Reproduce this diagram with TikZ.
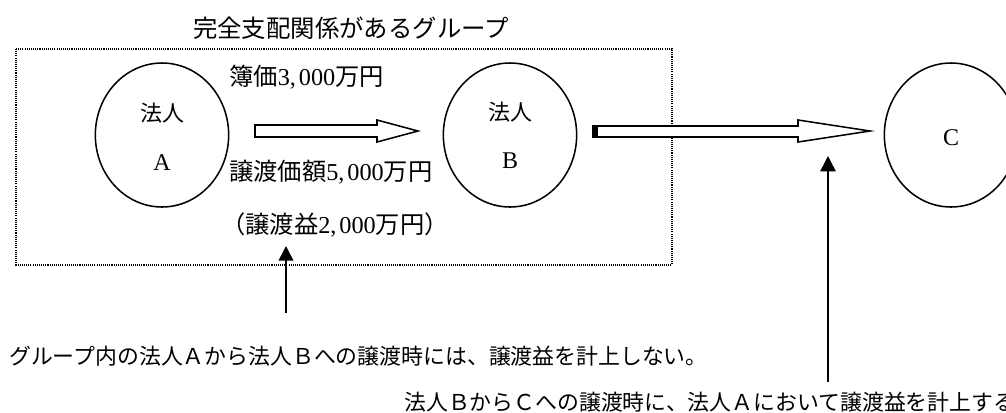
\documentclass[tikz,border=0pt]{standalone}
\usepackage{fontspec}
\setmainfont{Liberation Serif}
\newfontfamily\jp{Noto Sans CJK JP}
\usetikzlibrary{arrows.meta,shapes.geometric}
\begin{document}
\begin{tikzpicture}[x=0.75pt,y=-0.75pt,
  circ/.style={draw,ellipse,line width=1.15pt,minimum width=100pt,minimum height=108pt,inner sep=0pt},
  lbl/.style={inner sep=0pt,font=\fontsize{18.2pt}{20pt}\selectfont},
  inlbl/.style={inner sep=0pt,font=\fontsize{18pt}{20pt}\selectfont},
  injp/.style={inner sep=0pt,font=\fontsize{16.5pt}{18pt}\selectfont\jp},
  note/.style={inner sep=0pt,anchor=west,font=\fontsize{16.4pt}{18pt}\selectfont\jp},
  hollow/.style={draw,line width=1.15pt,fill=white,line join=miter},
  uparrow/.style={line width=1.15pt,-{Triangle[length=#1,width=#1]}}
]
\useasboundingbox (0,0) rectangle (1006,412);
\clip (0,0) rectangle (1006,412);
% group box
\node[inner sep=0pt,font=\fontsize{18.3pt}{20pt}\selectfont\jp] (title) at (351,28) {完全支配関係があるグループ};
\draw[dash pattern=on 0.8pt off 0.8pt,line width=0.9pt] (16,49) rectangle (672,265);
% entities
\node[circ] (A) at (162,135) {};
\node[circ] (B) at (510,135) {};
\node[circ] (C) at (951,135) {};
\node[injp] (Al) at (162,113) {法人};
\node[inlbl] (An) at (162,163) {A};
\node[injp] (Bl) at (510,112) {法人};
\node[inlbl] (Bn) at (510,161) {B};
\node[inlbl] (Cn) at (951,138) {C};
% hollow arrow A -> B
\coordinate (ab0) at (255,131);
\coordinate (ab1) at (418,131);
\draw[hollow] (255,125) -- (377,125) -- (377,120) -- (ab1) -- (377,142) -- (377,137) -- (255,137) -- cycle;
% hollow arrow B -> C
\coordinate (bc0) at (593,131);
\coordinate (bc1) at (870,131);
\draw[hollow] (593,126) -- (798,126) -- (798,120) -- (bc1) -- (798,142) -- (798,137) -- (593,137) -- cycle;
\fill (593,125.5) rectangle (598,137.5);
% labels
\node[lbl,anchor=west] (bv) at (229,77) {{\jp 簿価}3,\hspace{0.12em}000{\jp 万円}};
\node[lbl,anchor=west] (tp) at (229,172) {{\jp 譲渡価額}5,\hspace{0.12em}000{\jp 万円}};
\node[lbl,anchor=west] (gn) at (221,225) {{\jp （譲渡益}2,\hspace{0.12em}000{\jp 万円）}};
% notes
\node[note] (n1) at (9,356) {グループ内の法人Ａから法人Ｂへの譲渡時には、譲渡益を計上しない。};
\node[note] (n2) at (404,402) {法人ＢからＣへの譲渡時に、法人Ａにおいて譲渡益を計上する};
% pointer arrows
\coordinate (u1s) at (286,313);
\coordinate (u1t) at (286,246);
\draw[uparrow=11pt] (u1s) -- (u1t);
\coordinate (u2s) at (828,382);
\coordinate (u2t) at (828,156);
\draw[uparrow=11.5pt] (u2s) -- (u2t);
\end{tikzpicture}
\end{document}
